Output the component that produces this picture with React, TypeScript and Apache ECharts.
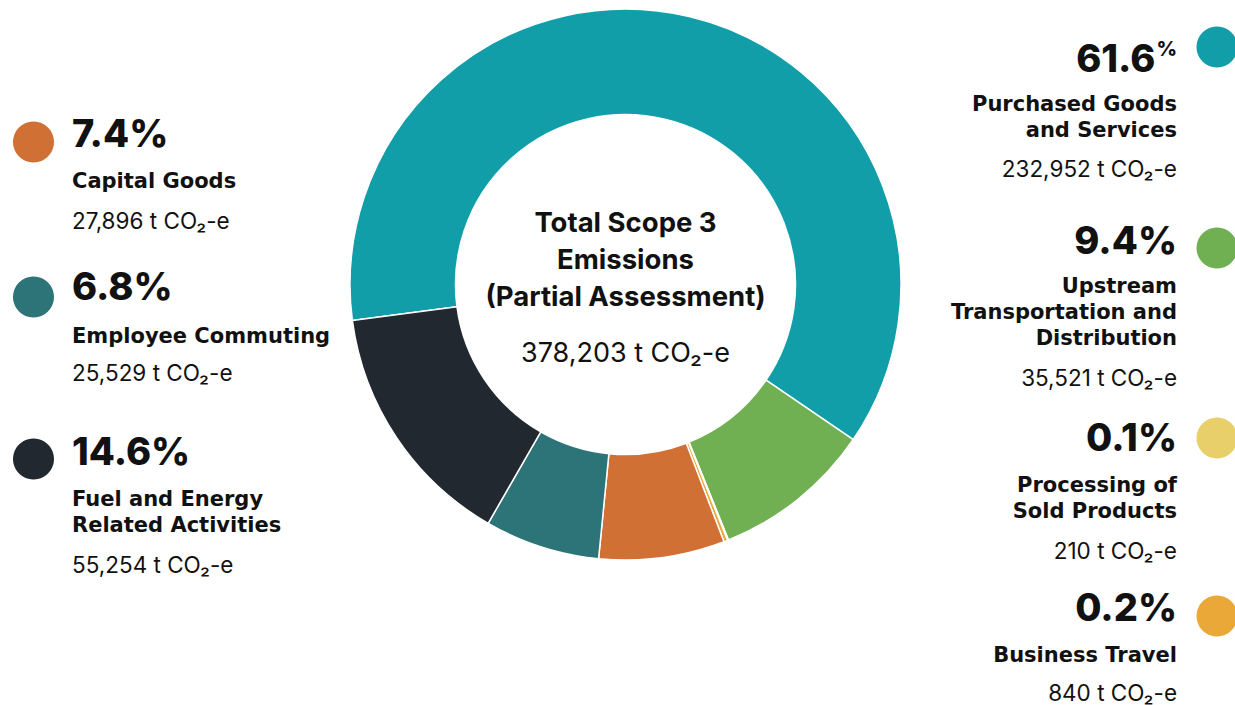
import React, { useEffect, useRef } from "react";
import * as echarts from "echarts";

const categories = [
  "Purchased Goods\nand Services",
  "Upstream\nTransportation and\nDistribution",
  "Processing of\nSold Products",
  "Business Travel",
  "Capital Goods",
  "Employee Commuting",
  "Fuel and Energy\nRelated Activities",
];
const values = [232952, 35521, 210, 840, 27896, 25529, 55254];
const percentLabels = ["61.6", "9.4", "0.1", "0.2", "7.4", "6.8", "14.6"];
const valueLabels = [
  "232,952 t CO₂-e",
  "35,521 t CO₂-e",
  "210 t CO₂-e",
  "840 t CO₂-e",
  "27,896 t CO₂-e",
  "25,529 t CO₂-e",
  "55,254 t CO₂-e",
];
const colors = ["#119EA8", "#70B052", "#E8CF6A", "#EAA838", "#D17034", "#2C7478", "#212830"];
const centerTitle = "Total Scope 3\nEmissions\n(Partial Assessment)";
const centerValue = "378,203 t CO₂-e";

// layout (positions only)
const layout = [
  { side: "right", cy: 47, pct: 58, name: 117, val: 168, smallPct: true },
  { side: "right", cy: 248, pct: 240, name: 312, val: 377 },
  { side: "right", cy: 438, pct: 437, name: 498, val: 550 },
  { side: "right", cy: 616, pct: 607, name: 655, val: 692 },
  { side: "left", cy: 142, pct: 133, name: 181, val: 220 },
  { side: "left", cy: 297, pct: 286, name: 336, val: 372 },
  { side: "left", cy: 459, pct: 451, name: 512, val: 564 },
];

const FONT = "Inter, 'DejaVu Sans', sans-serif";
const NAME_FONT = "'DejaVu Sans', Inter, sans-serif";

export default function App() {
  const ref = useRef<HTMLDivElement>(null);
  useEffect(() => {
    if (!ref.current) return;
    const chart = echarts.init(ref.current, null, { renderer: "svg" });
    const graphics: any[] = [];
    layout.forEach((l, i) => {
      const right = l.side === "right";
      const tx = right ? 1177 : 72;
      const cx = right ? 1217 : 33.5;
      graphics.push({
        type: "circle",
        shape: { cx, cy: l.cy, r: 20.5 },
        style: { fill: colors[i] },
      });
      graphics.push({
        type: "text",
        x: tx,
        y: l.pct,
        style: {
          text: l.smallPct ? `{a|${percentLabels[i]}}{b|%}` : `{a|${percentLabels[i]}%}`,
          rich: {
            a: { fontSize: 38, fontWeight: 800, fontFamily: FONT, fill: "#111" },
            b: { fontSize: 20, fontWeight: 800, fontFamily: FONT, fill: "#111", verticalAlign: "top", padding: [0, 0, 14, 1] },
          },
          align: right ? "right" : "left",
          verticalAlign: "middle",
        },
      });
      graphics.push({
        type: "text",
        x: tx,
        y: l.name,
        style: {
          text: categories[i],
          fontSize: 21,
          fontWeight: "bold",
          fontFamily: NAME_FONT,
          lineHeight: 26,
          fill: "#111",
          align: right ? "right" : "left",
          verticalAlign: "middle",
        },
      });
      graphics.push({
        type: "text",
        x: tx,
        y: l.val,
        style: {
          text: valueLabels[i],
          fontSize: 22.5,
          fontFamily: FONT,
          fill: "#111",
          align: right ? "right" : "left",
          verticalAlign: "middle",
        },
      });
    });
    graphics.push({
      type: "text",
      x: 625.5,
      y: 259,
      style: {
        text: centerTitle,
        fontSize: 27.5,
        fontWeight: "bold",
        fontFamily: FONT,
        lineHeight: 37,
        fill: "#111",
        align: "center",
        verticalAlign: "middle",
      },
    });
    graphics.push({
      type: "text",
      x: 625.5,
      y: 352,
      style: {
        text: centerValue,
        fontSize: 27,
        fontFamily: FONT,
        fill: "#111",
        align: "center",
        verticalAlign: "middle",
      },
    });

    chart.setOption({
      animation: false,
      backgroundColor: "#ffffff",
      series: [
        {
          type: "pie",
          center: [625.5, 284.5],
          radius: [170, 275.5],
          startAngle: 187.5,
          clockwise: true,
          label: { show: false },
          labelLine: { show: false },
          silent: true,
          itemStyle: { borderColor: "#ffffff", borderWidth: 1.5 },
          data: categories.map((c, i) => ({
            name: c,
            value: values[i],
            itemStyle: { color: colors[i] },
          })),
        },
      ],
      graphic: graphics,
    });
    return () => chart.dispose();
  }, []);
  return (
    <div
      ref={ref}
      style={{ position: "fixed", left: 0, top: 0, width: 1235, height: 705 }}
    />
  );
}
